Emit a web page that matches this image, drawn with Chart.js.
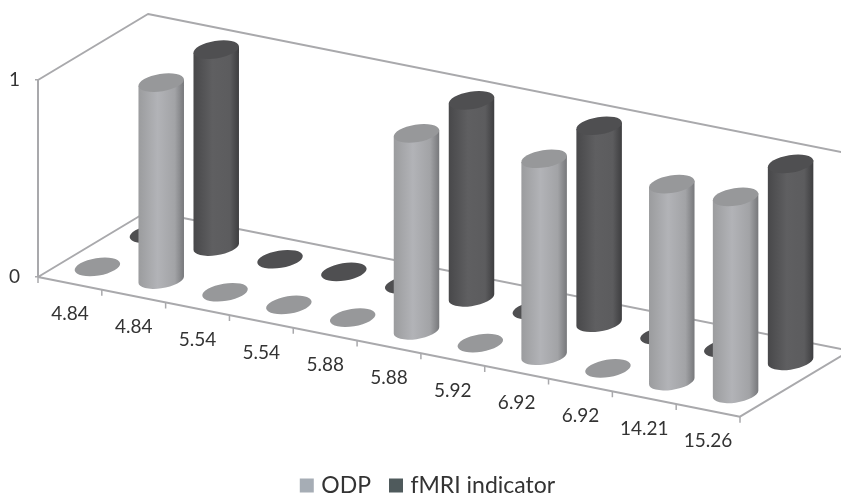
<!DOCTYPE html>
<html>
<head>
<meta charset="utf-8">
<style>
    html, body { margin: 0; padding: 0; background: #fff; }
    #wrap { width: 841px; height: 494px; }
</style>
<script src="https://cdn.jsdelivr.net/npm/chart.js@4"></script>
</head>
<body>
<div id="wrap"><canvas id="cylChart"></canvas></div>
<script>
const categories = ['4.84', '4.84', '5.54', '5.54', '5.88', '5.88', '5.92', '6.92', '6.92', '14.21', '15.26'];
const odpValues = [0, 1, 0, 0, 0, 1, 0, 1, 0, 1, 1];
const fmriValues = [0, 1, 0, 0, 0, 1, 0, 1, 0, 0, 1];

// oblique projection of the excel style 3d box
const slope = 0.199;      // floor falls to the right
const depthX = 110;
const depthY = -66;
const rows = [0.25, 0.75]; // depth of each series in the box
const rx = 23, ry = 8.7, tilt = -0.16;
const lineColor = '#a9a9ac';

const cylStyles = [
    { top: '#97989a', stops: ['#9b9c9e', '#b2b3b7', '#a2a3a6', '#77787b'] },
    { top: '#4f4f51', stops: ['#48484a', '#5f5f61', '#5c5c5e', '#3e3e40'] }
];

function drawCylinder (ctx, cx, topY, baseY, style) {
    let t0 = Math.atan(-(ry / rx) * Math.tan(tilt));
    let xh = Math.sqrt(rx * rx * Math.cos(tilt) ** 2 + ry * ry * Math.sin(tilt) ** 2);
    let yOff = (rx * rx - ry * ry) * Math.sin(tilt) * Math.cos(tilt) / xh;
    if (baseY - topY > 1) {
        let grad = ctx.createLinearGradient(cx - xh, 0, cx + xh, 0);
        grad.addColorStop(0, style.stops[0]);
        grad.addColorStop(0.42, style.stops[1]);
        grad.addColorStop(0.8, style.stops[2]);
        grad.addColorStop(1, style.stops[3]);
        ctx.fillStyle = grad;
        ctx.beginPath();
        ctx.moveTo(cx - xh, topY - yOff);
        ctx.lineTo(cx - xh, baseY - yOff);
        ctx.ellipse(cx, baseY, rx, ry, tilt, t0 + Math.PI, t0, true);
        ctx.lineTo(cx + xh, topY + yOff);
        ctx.closePath();
        ctx.fill();
    }
    ctx.fillStyle = style.top;
    ctx.beginPath();
    ctx.ellipse(cx, topY, rx, ry, tilt, 0, Math.PI * 2);
    ctx.fill();
}

const cylinderPlugin = {
    id: 'cylinders',
    beforeDatasetsDraw (chart) {
        const { ctx, chartArea, scales } = chart;
        const x = scales.x, y = scales.y;
        const left = chartArea.left, right = chartArea.right, bottom = chartArea.bottom, top = chartArea.top;
        const rise = (right - left) * slope;
        const step = (right - left) / categories.length;

        ctx.save();
        ctx.strokeStyle = lineColor;
        ctx.lineWidth = 2;
        ctx.lineJoin = 'round';
        // walls and floor
        ctx.beginPath();
        ctx.moveTo(left, top);
        ctx.lineTo(left + depthX, top + depthY);
        ctx.lineTo(right + depthX, top + depthY + rise);
        ctx.moveTo(left, bottom);
        ctx.lineTo(left + depthX, bottom + depthY);
        ctx.lineTo(right + depthX, bottom + depthY + rise);
        ctx.lineTo(right, bottom + rise);
        ctx.lineTo(left, bottom);
        ctx.stroke();
        // ticks on the front edge
        ctx.lineWidth = 1.5;
        ctx.beginPath();
        for (let i = 0; i <= categories.length; i++) {
            let tx = left + i * step;
            ctx.moveTo(tx, bottom + (tx - left) * slope);
            ctx.lineTo(tx, bottom + (tx - left) * slope + 6);
        }
        ctx.stroke();

        // back row first so the front row hides it
        for (let d = chart.data.datasets.length - 1; d >= 0; d--) {
            let values = chart.data.datasets[d].data;
            values.forEach((v, i) => {
                let px = x.getPixelForValue(i);
                let shift = (px - left) * slope + depthY * rows[d];
                drawCylinder(ctx, px + depthX * rows[d], y.getPixelForValue(v) + shift, y.getPixelForValue(0) + shift, cylStyles[d]);
            });
        }

        // category labels follow the slanted edge
        ctx.fillStyle = '#333333';
        ctx.font = '19px Lato';
        ctx.textAlign = 'center';
        ctx.textBaseline = 'middle';
        categories.forEach((label, i) => {
            let px = x.getPixelForValue(i);
            ctx.fillText(label, px, bottom + (px - left) * slope + 31);
        });
        ctx.restore();
        return false;
    }
};

new Chart(document.getElementById('cylChart'), {
    type: 'bar',
    data: {
        labels: categories,
        datasets: [
            { label: 'ODP', data: odpValues, backgroundColor: '#a6adb5' },
            { label: 'fMRI indicator', data: fmriValues, backgroundColor: '#4f5a5c' }
        ]
    },
    options: {
        responsive: true,
        maintainAspectRatio: false,
        animation: false,
        // negative values push the tall legend box past the canvas edge
        layout: { padding: { top: 80, left: 0, right: -18, bottom: -13 } },
        plugins: {
            tooltip: { enabled: false },
            legend: {
                position: 'bottom',
                labels: {
                    usePointStyle: true,
                    pointStyle: 'rect',
                    boxWidth: 6,
                    boxHeight: 14,
                    padding: 22,
                    color: '#333333',
                    font: { family: 'Lato', size: 23 }
                }
            }
        },
        scales: {
            x: {
                ticks: { display: false },
                grid: { display: false },
                border: { display: false },
                afterFit: scale => { scale.height = 175; }
            },
            y: {
                min: 0,
                max: 1,
                ticks: { stepSize: 1, padding: 15, color: '#333333', font: { family: 'Lato', size: 19 } },
                grid: { drawOnChartArea: false, color: lineColor, tickLength: 3, lineWidth: 1.5 },
                border: { color: lineColor, width: 2 },
                afterFit: scale => { scale.width = 38; }
            },
            // only keeps the room right of the front edge
            spacer: {
                position: 'right',
                ticks: { display: false },
                grid: { display: false },
                border: { display: false },
                afterFit: scale => { scale.width = 119; }
            }
        }
    },
    plugins: [cylinderPlugin]
});
</script>
</body>
</html>
